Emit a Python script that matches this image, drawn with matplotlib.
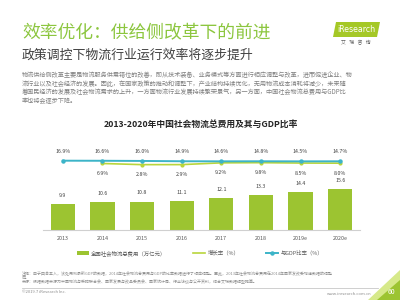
import matplotlib
matplotlib.use('Agg')
import matplotlib.pyplot as plt
from matplotlib.patches import Polygon, Patch
from matplotlib.lines import Line2D

plt.rcParams['font.family'] = ['Noto Sans CJK SC', 'DejaVu Sans']

years = ['2013', '2014', '2015', '2016', '2017', '2018', '2019e', '2020e']
cost = [9.9, 10.6, 10.8, 11.1, 12.1, 13.3, 14.4, 15.6]          # 万亿元
growth_years = years[1:]
growth = [6.9, 2.8, 2.9, 9.2, 9.8, 8.5, 8.0]                     # %
gdp_ratio = [16.9, 16.6, 16.0, 14.9, 14.6, 14.8, 14.5, 14.7]     # %

green = '#9cc431'
lgreen = '#b9d53c'
teal = '#3cb4c8'
gray = '#7f7f7f'

fig = plt.figure(figsize=(4, 3), dpi=100)
fig.patch.set_facecolor('white')

# slide header
fig.text(22/400, 1-33/300, '效率优化：供给侧改革下的前进', fontsize=12.8,
         color='#8cc63f', va='center', ha='left')
fig.text(22/400, 1-55/300, '政策调控下物流行业运行效率将逐步提升', fontsize=9.3,
         color='#404040', va='center', ha='left')

para = ['物流供给侧改革主要是物流服务供需错位的改善，即从技术装备、业务模式等方面进行相应调整与改革，进而促进企业、物',
        '流行业以及社会经济的发展。因此，在国家政策的推动和调整下，产业结构持续优化，无用物流成本消耗将减少，未来随',
        '着国民经济的发展及社会物流需求的上升，一方面物流行业发展持续繁荣景气，另一方面，中国社会物流总费用与GDP比',
        '率也将会逐步下降。']
for i, line in enumerate(para):
    fig.text(22/400, 1-(75+8.7*i)/300, line, fontsize=4.45, color=gray,
             va='center', ha='left')

fig.text(201/400, 1-124/300, '2013-2020年中国社会物流总费用及其与GDP比率',
         fontsize=6.3, fontweight='bold', color='#262626', ha='center', va='center')

# logo
logo = Polygon([[333/400, 1-37/300], [377/400, 1-37/300], [380/400, 1-22/300],
                [336/400, 1-22/300]], closed=True, transform=fig.transFigure,
               facecolor='#a5c826', edgecolor='none')
fig.patches.append(logo)
fig.text(356.5/400, 1-29.5/300, 'iResearch', fontsize=5.6, color='white',
         ha='center', va='center', family='DejaVu Sans')
fig.text(356/400, 1-43/300, '艾   瑞   咨   询', fontsize=3.5, color='#606060',
         ha='center', va='center')

# chart
ax = fig.add_axes([43/400, 1-230/300, 317/400, 90/300])
x = list(range(len(years)))
ax.bar(x, cost, width=0.61, color=green, zorder=2)
for xi, v in zip(x, cost):
    ax.annotate(f'{v}', (xi, v), xytext=(0, 4.5), textcoords='offset points',
                ha='center', va='bottom', fontsize=3.8, color='#404040')
ax.set_xlim(-0.5, 7.5)
ax.set_ylim(0, 34.2)
ax.set_xticks(x)
ax.set_xticklabels(years, fontsize=3.9, color='#595959')
ax.tick_params(axis='x', length=0, pad=4)
ax.set_yticks([])
for s in ['top', 'left', 'right']:
    ax.spines[s].set_visible(False)
ax.spines['bottom'].set_color('#d0d0d0')
ax.spines['bottom'].set_linewidth(0.8)

ax2 = ax.twinx()
ax2.set_ylim(-230.6, 90.8)
gx = [years.index(y) for y in growth_years]
ax2.plot(gx, growth, color=lgreen, lw=1.2, marker='o', ms=2, zorder=3)
ax2.plot(x, gdp_ratio, color=teal, lw=1.4, marker='o', ms=2.2, zorder=4)
for xi, v in zip(x, gdp_ratio):
    ax2.annotate(f'{v:.1f}%', (xi, v), xytext=(0, 5), textcoords='offset points',
                 ha='center', va='bottom', fontsize=3.8, color='#404040')
for xi, v in zip(gx, growth):
    ax2.annotate(f'{v:.1f}%', (xi, v), xytext=(0, -5.5), textcoords='offset points',
                 ha='center', va='top', fontsize=3.8, color='#404040')
ax2.set_yticks([])
ax2.axis('off')

handles = [Patch(facecolor=green),
           Line2D([], [], color=lgreen, lw=1.2),
           Line2D([], [], color=teal, lw=1.4, marker='o', ms=2.2)]
labels = ['全国社会物流总费用（万亿元）', '增长率（%）', '与GDP比率（%）']
fig.legend(handles, labels, loc='center', bbox_to_anchor=(0.5, 1-253/300), ncol=3,
           frameon=False, fontsize=3.9, handlelength=2.2, handleheight=0.7,
           columnspacing=5, handletextpad=0.4, labelcolor='#595959')

# footnotes
notes = ['注释：由于四舍五入，该处用到最新GDP的数据，2014年社会物流总费用与GDP的比率数据进行了相应调整。因此，2013年社会物流总费用在2014年国家发改委增速数据的调整',
         '后。',
         '来源：根据数据来源为中国物流与采购联合会、国家发展与改革委员会、国家统计局、行业访谈与公开资料，结合艾瑞数据模型推算。']
for i, line in enumerate(notes):
    fig.text(22/400, 1-(273+4.5*i)/300, line, fontsize=2.85, color='#8c8c8c',
             ha='left', va='center')
fig.add_artist(Line2D([22/400, 378/400], [1-288/300, 1-288/300],
                      transform=fig.transFigure, color='#c8c8c8', lw=0.6))
fig.text(22/400, 1-292/300, '©2019.7 iResearch Inc.', fontsize=3.0, color='#8c8c8c',
         ha='left', va='center')
fig.text(372/400, 1-294/300, 'www.iresearch.com.cn', fontsize=3.0, color='#8c8c8c',
         ha='right', va='center')

tri_back = Polygon([[400/400, 1-270/300], [400/400, 0], [368/400, 0]], closed=True,
                   transform=fig.transFigure, facecolor='#d6e98a', edgecolor='none')
tri = Polygon([[400/400, 1-280/300], [400/400, 0], [377/400, 0]], closed=True,
              transform=fig.transFigure, facecolor='#9cc431', edgecolor='none')
fig.patches.extend([tri_back, tri])
fig.text(391/400, 1-292/300, '60', fontsize=5, color='white', ha='center', va='center')

fig.savefig('out.png', dpi=100, facecolor='white')
